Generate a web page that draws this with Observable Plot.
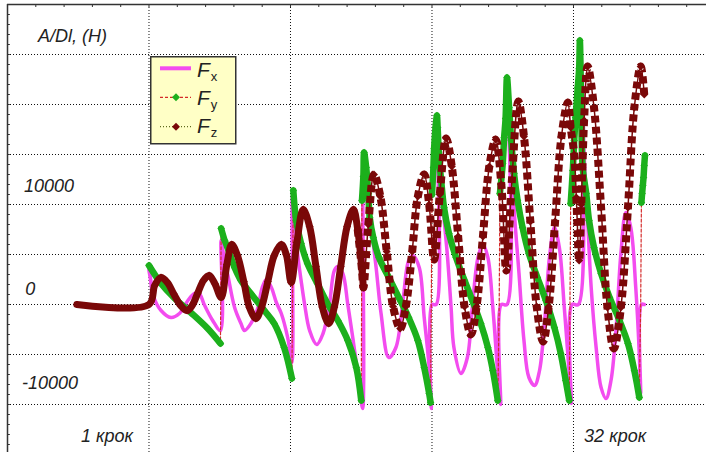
<!DOCTYPE html>
<html><head><meta charset="utf-8">
<script src="https://cdn.jsdelivr.net/npm/d3@7"></script>
<script src="https://cdn.jsdelivr.net/npm/@observablehq/plot@0.6"></script>
<style>
body{margin:0;background:#fff;}
#wrap{position:relative;width:706px;height:452px;overflow:hidden;font-family:"Liberation Sans",Arial,sans-serif;}
#legend{position:absolute;left:150px;top:56px;}
</style></head><body>
<div id="wrap"></div>
<script>
// time in steps (t), force in N
const fx = [
[-1.02,0],[0,0],[0,3500],[0.07,700],[0.17,-600],[0.31,-1300],[0.43,-900],[0.55,400],[0.64,1100],[0.71,1100],[0.78,0],[0.90,-1600],[1.01,-2600],
[1.02,6400],[1.06,4700],[1.11,3100],[1.21,-300],[1.30,-1900],[1.35,-2600],[1.44,-1900],[1.54,-300],[1.60,1700],[1.66,2500],[1.73,1700],[1.80,200],[1.87,-900],[1.96,-3300],[2.02,-5800],
[2.03,11000],[2.10,5100],[2.15,2400],[2.20,0],[2.27,-2600],[2.37,-4000],[2.46,-2900],[2.55,0],[2.62,3400],[2.67,3800],[2.74,3100],[2.81,0],[2.88,-3300],[2.97,-7900],[3.02,-10400],
[3.03,15000],[3.08,10500],[3.14,7700],[3.21,3700],[3.28,-900],[3.39,-5300],[3.49,-4300],[3.59,400],[3.67,4400],[3.73,4900],[3.82,3700],[3.89,-1300],[3.96,-6300],[3.99,-10400],
[4.00,0],[4.06,0],[4.07,18500],[4.13,13100],[4.17,8700],[4.22,4700],[4.27,-300],[4.31,-4300],[4.41,-6900],[4.50,-5300],[4.57,-300],[4.65,4700],[4.72,6000],[4.79,4700],[4.86,-300],[4.93,-6900],[4.97,-10000],
[4.98,0],[5.06,0],[5.07,22300],[5.12,16400],[5.16,9700],[5.23,3100],[5.30,-3600],[5.37,-7300],[5.45,-8100],[5.52,-6600],[5.59,-1900],[5.66,4700],[5.73,7700],[5.80,5700],[5.87,-300],[5.94,-6900],[5.97,-9900],
[5.98,0],[6.07,0],[6.09,26400],[6.13,21700],[6.15,15100],[6.20,8400],[6.25,1700],[6.32,-4300],[6.39,-8300],[6.46,-9400],[6.53,-7600],[6.60,-2600],[6.67,5100],[6.74,9200],[6.81,7700],[6.88,1700],[6.93,-4900],[6.95,-8900],[6.96,0],[7.00,0]
];
// [t, value, step] ; step -1 = transition point (no marker)
const fy = [
[0,3900,0],[0.17,2100,0],[0.35,700,0],[0.59,-800,0],[0.83,-2400,0],[1.01,-3900,0],
[1.02,7600,1],[1.07,6400,1],[1.11,5700,1],[1.21,3700,1],[1.30,2400,1],[1.44,1100,1],[1.63,-600,1],[1.77,-1900,1],[1.91,-4300,1],[2.02,-7400,1],
[2.04,11400,2],[2.08,8400,2],[2.15,6100,2],[2.24,4100,2],[2.38,2100,2],[2.53,0,2],[2.67,-1600,2],[2.81,-3600,2],[2.93,-6300,2],[3.00,-9600,2],
[3.01,10400,3],[3.03,12800,3],[3.04,15200,3],[3.07,13700,3],[3.10,11100,3],[3.12,8700,3],[3.17,6700,3],[3.25,4700,3],[3.39,2700,3],[3.53,700,3],[3.67,-1300,3],[3.80,-3600,3],[3.89,-6300,3],[3.96,-8900,3],[3.98,-9800,3],
[3.99,0,-1],
[4.00,11000,4],[4.02,13700,4],[4.03,15600,4],[4.05,17700,4],[4.07,18900,4],[4.08,17700,4],[4.10,14700,4],[4.13,12400,4],[4.17,9700,4],[4.24,7100,4],[4.34,4700,4],[4.46,2400,4],[4.57,400,4],[4.69,-1900,4],[4.79,-4300,4],[4.86,-6600,4],[4.93,-9600,4],
[4.95,0,-1],
[4.96,11100,5],[5.00,14100,5],[5.02,16700,5],[5.04,18600,5],[5.06,22700,5],[5.09,19700,5],[5.12,16400,5],[5.16,13100,5],[5.21,10400,5],[5.28,7700,5],[5.37,5100,5],[5.49,2700,5],[5.61,400,5],[5.73,-2300,5],[5.82,-4900,5],[5.89,-7600,5],[5.94,-9600,5],
[5.95,0,-1],
[5.96,10100,6],[5.99,13400,6],[6.01,16400,6],[6.03,18700,6],[6.06,21700,6],[6.08,23600,6],[6.09,26400,6],[6.11,19000,6],[6.13,13700,6],[6.18,11100,6],[6.22,8400,6],[6.29,5700,6],[6.39,3100,6],[6.51,700,6],[6.65,-1600,6],[6.77,-3900,6],[6.86,-6600,6],[6.93,-9300,6],
[6.95,0,-1],
[6.96,10200,7],[6.97,11100,7],[6.98,11900,7],[6.99,12700,7],[7.00,13900,7],[7.01,14900,7]
];
const fz = [
[-1.02,0],[0,0],
[0.08,1900],[0.17,2700],[0.26,2200],[0.35,1050],[0.45,-120],[0.54,-600],[0.61,-100],[0.69,1150],[0.77,2400],[0.85,2900],[0.93,2100],[1.02,700],
[1.10,4000],[1.17,6000],[1.25,4900],[1.34,2300],[1.42,-300],[1.51,-1400],[1.59,-300],[1.68,2300],[1.77,4900],[1.87,6000],[1.94,5000],[2.01,2200],
[2.09,6200],[2.18,9500],[2.27,7800],[2.36,3800],[2.45,-250],[2.54,-1900],[2.62,-250],[2.71,3800],[2.80,7800],[2.89,9500],[2.95,7500],[3.01,3500],[3.03,1700],
[3.10,8000],[3.18,13000],[3.27,10800],[3.36,5300],[3.45,-200],[3.55,-2400],[3.63,-200],[3.72,5300],[3.80,10800],[3.89,13000],[3.96,10000],[4.03,4500],
[4.11,11000],[4.20,16600],[4.28,13800],[4.37,6800],[4.46,-200],[4.55,-3000],[4.63,-200],[4.72,6800],[4.81,13800],[4.90,16500],[4.98,12000],[5.05,3400],
[5.13,12500],[5.22,20300],[5.30,16800],[5.39,8300],[5.48,-200],[5.57,-3700],[5.65,-200],[5.74,8300],[5.83,16800],[5.92,20200],[5.96,17700],[6.01,15000],[6.04,10700],[6.08,4400],
[6.11,10000],[6.15,18400],[6.20,23800],[6.29,19700],[6.39,9700],[6.48,-300],[6.57,-4400],[6.67,-300],[6.77,9700],[6.86,19700],[6.95,23800],[7.00,21000]
];
const gridT = [0, 2, 4, 6];
const gridV = [-10000, -5000, 0, 5000, 10000, 15000, 20000, 25000];
const yTickValues = [10000, 0, -10000];
const yTickLabels = ["10000", "0", "-10000"];
const xLabels = ["1 крок", "32 крок"];
const yTitle = "A/Dl, (H)";
const seriesNames = ["x", "y", "z"];

const FX = "#f34cef", FYG = "#1cb01c", FYR = "#d42a2a", FZ = "#7a0808", FZL = "#5f6a1e";
const fxRows = fx.map(([t, v]) => ({t, v}));
const fyRows = fy.map(([t, v, s]) => ({t, v, s}));
const fyPts = fyRows.filter(d => d.s >= 0);
const fzRows = fz.map(([t, v]) => ({t, v}));
const fzEarly = fzRows.filter(d => d.t <= 3.03);
const fzLate = fzRows.filter(d => d.t >= 2.95);
const minorX = d3.range(-2, 7.9, 0.4);
const minorY = d3.range(-14000, 30001, 1000);
const diamond = d3.symbolDiamond2 || "diamond";
const font = "Liberation Sans, Arial, sans-serif";

function label(s, x, y, dy) {
  return Plot.text([s], {x: () => x, y: () => y, text: d => d, dy, textAnchor: "start", lineAnchor: "bottom",
    fontSize: 18, fontStyle: "italic", fill: "#222", fontFamily: font});
}

const chart = Plot.plot({
  width: 706, height: 452, marginLeft: 7, marginRight: 0, marginTop: 4, marginBottom: 0,
  style: {fontFamily: font, background: "#fff"},
  x: {domain: [-2, 7.88], axis: null},
  y: {domain: [-14800, 30000], axis: null},
  marks: [
    Plot.ruleY(gridV, {stroke: "#111", strokeDasharray: "1,2"}),
    Plot.ruleX(gridT, {stroke: "#111", strokeDasharray: "1,2"}),
    Plot.ruleY(minorY, {x1: -2, x2: -1.96, stroke: "#333"}),
    Plot.ruleX(minorX, {y1: 30000, y2: 29700, stroke: "#333"}),
    Plot.ruleX([-2], {stroke: "#333", strokeWidth: 1.5}),
    Plot.ruleY([30000], {stroke: "#333", strokeWidth: 1.5}),
    label(yTitle, -1.57, 25000, -13),
    label(yTickLabels[0], -1.767, yTickValues[0], -13),
    label(yTickLabels[1], -1.75, yTickValues[1], -10),
    label(yTickLabels[2], -1.795, yTickValues[2], -16),
    label(xLabels[0], -0.96, -10000, 37),
    label(xLabels[1], 6.15, -10000, 37),
    Plot.line(fxRows, {x: "t", y: "v", stroke: FX, strokeWidth: 3.5, curve: "catmull-rom"}),
    Plot.line(fyRows, {x: "t", y: "v", stroke: FYR, strokeWidth: 1.2, strokeDasharray: "3,2"}),
    Plot.line(fyPts, {x: "t", y: "v", z: "s", stroke: FYG, strokeWidth: 6.5, curve: "catmull-rom"}),
    Plot.dot(fyPts, {x: "t", y: "v", symbol: diamond, r: 3.4, fill: FYG}),
    Plot.line(fzLate, {x: "t", y: "v", stroke: FZ, strokeWidth: 1.5, curve: "catmull-rom"}),
    Plot.line(fzLate, {x: "t", y: "v", stroke: FZ, strokeWidth: 8, strokeDasharray: "7,4", strokeLinecap: "butt", curve: "catmull-rom"}),
    Plot.line(fzEarly, {x: "t", y: "v", stroke: FZ, strokeWidth: 7, curve: "catmull-rom"}),
    Plot.dot(fzRows.filter(d => d.t > 0), {x: "t", y: "v", symbol: diamond, r: 3.6, fill: FZ})
  ]
});
const wrap = document.getElementById("wrap");
wrap.appendChild(chart);

// legend
const NS = "http://www.w3.org/2000/svg";
const lg = document.createElementNS(NS, "svg");
lg.setAttribute("id", "legend");
lg.setAttribute("width", 87); lg.setAttribute("height", 89);
lg.innerHTML = `
<rect x="0.75" y="0.75" width="85" height="87" fill="#ffffc6" stroke="#333" stroke-width="1.5"/>
<line x1="10" x2="41" y1="12.3" y2="12.3" stroke="${FX}" stroke-width="4"/>
<line x1="10" x2="41" y1="41.3" y2="41.3" stroke="${FYR}" stroke-width="1.2" stroke-dasharray="3,2"/>
<path transform="translate(26,41.3)" d="${d3.symbol(diamond, 40)()}" fill="${FYG}"/>
<line x1="10" x2="41" y1="70.7" y2="70.7" stroke="${FZL}" stroke-width="1.2" stroke-dasharray="1,2"/>
<path transform="translate(26,70.7)" d="${d3.symbol(diamond, 40)()}" fill="${FZ}"/>
`;
const ys = [21, 49, 77];
seriesNames.forEach((s, i) => {
  const t = document.createElementNS(NS, "text");
  t.setAttribute("x", 47); t.setAttribute("y", ys[i]);
  t.setAttribute("font-family", font); t.setAttribute("font-style", "italic");
  t.setAttribute("font-size", 21); t.setAttribute("fill", "#222");
  t.textContent = "F";
  const sub = document.createElementNS(NS, "tspan");
  sub.setAttribute("font-size", 13); sub.setAttribute("dy", 4); sub.setAttribute("dx", 1);
  sub.setAttribute("font-style", "normal");
  sub.textContent = s;
  t.appendChild(sub);
  lg.appendChild(t);
});
wrap.appendChild(lg);
</script></body></html>
